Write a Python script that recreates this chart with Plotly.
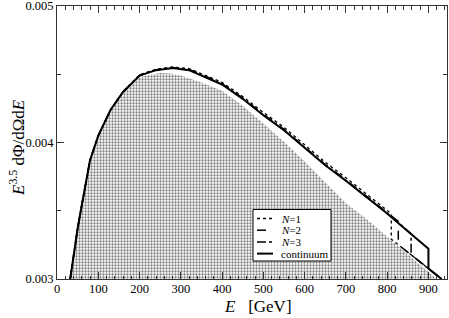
import plotly.graph_objects as go

# ---- data ----
cont_E = [32, 40, 50, 60, 80, 100, 130, 160, 200, 240, 280, 320, 360, 400, 450, 500,
          550, 600, 650, 700, 750, 800, 850, 900, 900, 932]
cont_y = [0.00300, 0.00317, 0.00337, 0.00354, 0.00387, 0.00405, 0.00424, 0.00437, 0.00449,
          0.00453, 0.004545, 0.00453, 0.00448, 0.004425, 0.00432, 0.00420, 0.00409, 0.00396,
          0.003833, 0.00372, 0.00360, 0.00348, 0.00335, 0.003222, 0.003076, 0.00300]

n1_E = [32, 40, 50, 60, 80, 100, 130, 160, 200, 240, 280, 320, 360, 400, 450, 500,
        550, 600, 650, 700, 750, 800, 810, 810, 932]
n1_y = [0.00300, 0.00317, 0.00337, 0.00354, 0.00387, 0.00405, 0.00424, 0.004372, 0.004495,
        0.004537, 0.004553, 0.004542, 0.004493, 0.00444, 0.004337, 0.00422, 0.004111, 0.003982,
        0.003855, 0.003742, 0.003622, 0.003502, 0.003478, 0.003292, 0.00300]

n2_E = [32, 40, 50, 60, 80, 100, 130, 160, 200, 240, 280, 320, 360, 400, 450, 500,
        550, 600, 650, 700, 750, 800, 827, 827, 932]
n2_y = [0.00300, 0.00317, 0.00337, 0.00354, 0.00387, 0.00405, 0.00424, 0.00437, 0.004492,
        0.004533, 0.004549, 0.004535, 0.004486, 0.004431, 0.004326, 0.004206, 0.004096, 0.003966,
        0.003839, 0.003726, 0.003606, 0.003486, 0.003422, 0.003251, 0.00300]

n3_E = [32, 40, 50, 60, 80, 100, 130, 160, 200, 240, 280, 320, 360, 400, 450, 500,
        550, 600, 650, 700, 750, 800, 850, 858, 858, 932]
n3_y = [0.00300, 0.00317, 0.00337, 0.00354, 0.00387, 0.00405, 0.00424, 0.00437, 0.004491,
        0.004532, 0.004547, 0.004533, 0.004483, 0.004428, 0.004323, 0.004203, 0.004093, 0.003963,
        0.003836, 0.003723, 0.003603, 0.003483, 0.003353, 0.003333, 0.003177, 0.00300]

shade_E = [32, 40, 50, 60, 80, 100, 130, 160, 200, 250, 275, 300, 350, 400, 450, 500,
           550, 600, 650, 700, 750, 800, 850, 900, 920]
shade_y = [0.00300, 0.00317, 0.00337, 0.00354, 0.00387, 0.00405, 0.00424, 0.00437, 0.00448,
           0.00451, 0.004506, 0.00449, 0.00444, 0.00438, 0.00427, 0.00414, 0.004005, 0.00386,
           0.00371, 0.003555, 0.00344, 0.00331, 0.00318, 0.00305, 0.00300]

x_ticks = [0, 100, 200, 300, 400, 500, 600, 700, 800, 900]
x_labels = ["0", "100", "200", "300", "400", "500", "600", "700", "800", "900"]
x_minor = [v for v in range(0, 945, 20) if v % 100 != 0]
y_ticks = [0.003, 0.004, 0.005]
y_labels = ["0.003", "0.004", "0.005"]
y_minor = [0.0035, 0.0045]

legend_names = ["<i>N</i>=1", "<i>N</i>=2", "<i>N</i>=3", "continuum"]
legend_dash = ["dot", "dash", "dashdot", "solid"]
legend_width = [1.3, 1.5, 1.5, 2]

FONT = "Liberation Serif"
W, H = 449, 318
ML, MR, MT, MB = 57, 2, 6, 39
PW, PH = W - ML - MR, H - MT - MB


def px_x(p):
    return (p - ML) / PW


def px_y(p):
    return (H - MB - p) / PH


fig = go.Figure()

fig.add_trace(go.Scatter(
    x=shade_E, y=shade_y, mode="lines", line=dict(width=0, color="rgba(0,0,0,0)"),
    fill="tozeroy", fillcolor="white",
    fillpattern=dict(shape=".", size=3, solidity=0.45, fgcolor="#808080", bgcolor="white",
                     fillmode="replace"),
    showlegend=False, hoverinfo="skip"))

series = [(n1_E, n1_y), (n2_E, n2_y), (n3_E, n3_y), (cont_E, cont_y)]
for (ex, ey), name, dash, w in zip(series, legend_names, legend_dash, legend_width):
    fig.add_trace(go.Scatter(x=ex, y=ey, mode="lines", name=name, showlegend=False,
                             line=dict(color="black", width=w, dash=dash)))

# manual legend (box, samples, labels)
shapes = [dict(type="rect", xref="paper", yref="paper",
               x0=px_x(253), x1=px_x(331), y0=px_y(261), y1=px_y(209.5),
               line=dict(color="black", width=1), fillcolor="white", layer="above")]
annotations = []
for i, (name, dash, w) in enumerate(zip(legend_names, legend_dash, legend_width)):
    yc = 218.5 + i * 11.7
    shapes.append(dict(type="line", xref="paper", yref="paper",
                       x0=px_x(257), x1=px_x(273), y0=px_y(yc), y1=px_y(yc),
                       line=dict(color="black", width=w, dash=dash), layer="above"))
    annotations.append(dict(text=name, xref="paper", yref="paper", x=px_x(279),
                            y=px_y(yc), xanchor="left", yanchor="middle", showarrow=False,
                            font=dict(family=FONT, size=11)))

annotations += [
    dict(text="<i>E</i>&nbsp;&nbsp;&nbsp;[GeV]", xref="paper", yref="paper",
         x=px_x(258), y=px_y(306.5), xanchor="center", yanchor="middle", showarrow=False,
         font=dict(family=FONT, size=17)),
    dict(text="<i>E</i><sup>3.5</sup> dΦ/dΩd<i>E</i>", xref="paper", yref="paper",
         x=px_x(17), y=px_y(148), xanchor="center", yanchor="middle", textangle=-90,
         showarrow=False, font=dict(family=FONT, size=17)),
]

axis_common = dict(ticks="inside", ticklen=7, tickcolor="#333", tickwidth=1,
                   showline=True, linecolor="#333", linewidth=1, mirror="allticks",
                   showgrid=False, zeroline=False, automargin=False,
                   ticklabeloverflow="allow", tickfont=dict(family=FONT, size=12.5),
                   tickmode="array")

fig.update_layout(
    width=W, height=H,
    margin=dict(l=ML, r=MR, t=MT, b=MB, autoexpand=False),
    paper_bgcolor="white", plot_bgcolor="white",
    font=dict(family=FONT, size=13, color="black"),
    showlegend=False,
    xaxis=dict(range=[0, 945], tickvals=x_ticks, ticktext=x_labels, ticklabelstandoff=-2,
               minor=dict(tickmode="array", tickvals=x_minor, ticks="inside", ticklen=3.5,
                          tickcolor="#333"),
               **axis_common),
    yaxis=dict(range=[0.003, 0.005], tickvals=y_ticks, ticktext=y_labels,
               minor=dict(tickmode="array", tickvals=y_minor, ticks="inside", ticklen=4,
                          tickcolor="#333"),
               **axis_common),
    shapes=shapes,
    annotations=annotations,
)

fig.write_html("out.html", config={"displayModeBar": False},
               post_script="document.body.style.margin='0';document.body.style.padding='0';"
                           "document.documentElement.style.overflow='hidden';")
